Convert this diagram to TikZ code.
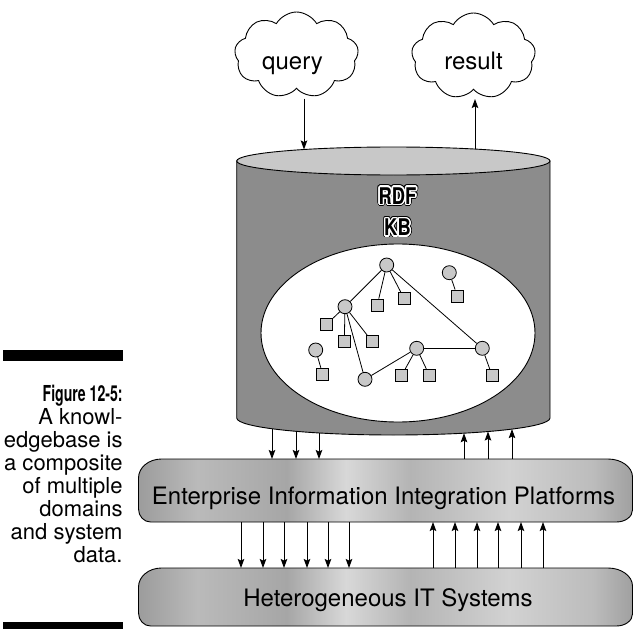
\documentclass[tikz,border=0pt]{standalone}
\usepackage{fontspec}
\setmainfont{TeX Gyre Heros}
\newfontfamily\condfont[FakeStretch=0.64]{TeX Gyre Heros}
\newfontfamily\kbfont[FakeStretch=0.8]{TeX Gyre Heros}
\usepackage{contour}
\usetikzlibrary{shapes.symbols,shapes.geometric,arrows.meta}
\definecolor{lightg}{HTML}{C8C8C8}
\definecolor{bodyg}{HTML}{8C8C8C}
\definecolor{mA}{HTML}{9C9C9C}
\definecolor{mB}{HTML}{BABABA}
\definecolor{mC}{HTML}{A6A6A6}
\definecolor{mD}{HTML}{D8D8D8}
\definecolor{mE}{HTML}{B4B4B4}
\definecolor{mF}{HTML}{D2D2D2}
\definecolor{mG}{HTML}{BCBCBC}
\definecolor{mH}{HTML}{A0A0A0}
\pgfdeclarehorizontalshading{metal}{100bp}{color(0bp)=(mA); color(25bp)=(mA); color(31bp)=(mB); color(40bp)=(mC); color(46bp)=(mD); color(52.5bp)=(mE); color(62.5bp)=(mF); color(71bp)=(mG); color(75bp)=(mH); color(100bp)=(mH)}
\begin{document}
\begin{tikzpicture}[x=1pt,y=-1pt,line width=0.9pt,
  arr/.style={-{Stealth[length=9pt,width=6.5pt,inset=1.5pt]}},
  gcirc/.style={circle,draw,fill=lightg,minimum size=14pt,inner sep=0pt,line width=0.8pt},
  gsq/.style={rectangle,draw,fill=lightg,minimum size=12pt,inner sep=0pt,line width=0.8pt},
  gedge/.style={line width=0.8pt},
  bigtxt/.style={font=\fontsize{24}{28}\selectfont},
  captxt/.style={font=\fontsize{22}{24}\selectfont,anchor=base east,inner sep=0pt},
  kbtxt/.style={font=\kbfont\bfseries\fontsize{23}{26}\selectfont,inner sep=0pt},
  cloudbox/.style={cloud,draw,fill=white,cloud puffs=9,cloud puff arc=120,aspect=1.4,minimum width=124pt,minimum height=86pt,inner sep=0pt},
  metalbox/.style={shading=metal,draw,line width=0.9pt}]
\useasboundingbox (0,0) rectangle (633,629);

% caption
\fill (3.3,350) rectangle (123.3,360.5);
\fill (3.3,622) rectangle (123.3,629);
\node[captxt,font=\condfont\bfseries\fontsize{22}{24}\selectfont] (c1) at (123,401.7) {Figure 12-5:};
\node[captxt] (c2) at (123,424.7) {A knowl-};
\node[captxt] (c3) at (123,447.7) {edgebase is};
\node[captxt] (c4) at (123,470.7) {a composite};
\node[captxt] (c5) at (123,493.7) {of multiple};
\node[captxt] (c6) at (123,516.7) {domains};
\node[captxt] (c7) at (123,539.7) {and system};
\node[captxt] (c8) at (123,562.7) {data.};

% clouds
\node[cloudbox] (q) at (296.5,55) {};
\node[cloudbox] (r) at (473.5,56) {};
\node[bigtxt,anchor=base] (qt) at (292.5,70) {query};
\node[bigtxt,anchor=base] (rt) at (473.5,70) {result};

% cylinder
\path[fill=bodyg,draw] (236.7,161) -- (236.7,418) arc[start angle=180,end angle=0,x radius=156.65,y radius=17] -- (550,161) -- cycle;
\path[fill=lightg,draw] (393.35,161) ellipse[x radius=156.65,y radius=14];
\node[kbtxt] (rdfo) at (397.5,196.7) {\contourlength{2.4pt}\contour{black}{RDF}};
\node[kbtxt] (rdf) at (397.5,196.7) {\contourlength{1.5pt}\contour{white}{RDF}};
\node[kbtxt] (kbo) at (397.5,228.3) {\contourlength{2.4pt}\contour{black}{KB}};
\node[kbtxt] (kb) at (397.5,228.3) {\contourlength{1.5pt}\contour{white}{KB}};
\path[fill=white,draw] (398,333) ellipse[x radius=137,y radius=89];

% graph
\node[gcirc] (a) at (386.7,265) {};
\node[gcirc] (b) at (345,306.7) {};
\node[gcirc] (c) at (449.3,272.7) {};
\node[gcirc] (d) at (315.7,350) {};
\node[gcirc] (e) at (365,379.3) {};
\node[gcirc] (f) at (416.7,348.3) {};
\node[gcirc] (g) at (482.3,348.3) {};
\node[gsq] (s1) at (377.3,305) {};
\node[gsq] (s2) at (404,298.3) {};
\node[gsq] (s3) at (457.3,296) {};
\node[gsq] (s4) at (326.7,324.3) {};
\node[gsq] (s5) at (344.3,341.7) {};
\node[gsq] (s6) at (372.3,341.7) {};
\node[gsq] (s7) at (322.7,374.3) {};
\node[gsq] (s8) at (401.7,375.3) {};
\node[gsq] (s9) at (429.3,375.3) {};
\node[gsq] (s10) at (492,375.3) {};
\draw[gedge] (a) -- (b);
\draw[gedge] (a) -- (s1);
\draw[gedge] (a) -- (s2);
\draw[gedge] (a) -- (g);
\draw[gedge] (c) -- (s3);
\draw[gedge] (b) -- (s4);
\draw[gedge] (b) -- (s5);
\draw[gedge] (b) -- (s6);
\draw[gedge] (b) -- (e);
\draw[gedge] (e) -- (f);
\draw[gedge] (f) -- (g);
\draw[gedge] (f) -- (s8);
\draw[gedge] (f) -- (s9);
\draw[gedge] (g) -- (s10);
\draw[gedge] (d) -- (s7);

% cloud arrows
\coordinate (qb) at (304,98.5);
\coordinate (ct1) at (304,149.5);
\coordinate (rb) at (475,99);
\coordinate (ct2) at (475,149);
\draw[arr] (qb) -- (ct1);
\draw[arr] (ct2) -- (rb);

% EIIP box
\path[metalbox] (138.5,478) .. controls (138.5,467.5) and (148.8,459) .. (161.5,459) -- (608,459)
  .. controls (621.5,459) and (632.5,467.1) .. (632.5,477) -- (632.5,510)
  .. controls (632.5,516.6) and (625.3,522) .. (616.5,522) -- (150.5,522)
  .. controls (143.9,522) and (138.5,516.2) .. (138.5,509) -- cycle;
\node[bigtxt,anchor=base] (eiip) at (383.5,504) {Enterprise Information Integration Platforms};

% HIT box
\path[metalbox] (138.5,587) .. controls (138.5,576.5) and (148.8,568) .. (161.5,568) -- (608,568)
  .. controls (621.5,568) and (632.5,576.1) .. (632.5,586) -- (632.5,614)
  .. controls (632.5,620.6) and (625.3,626) .. (616.5,626) -- (150.5,626)
  .. controls (143.9,626) and (138.5,620.2) .. (138.5,613) -- cycle;
\node[bigtxt,anchor=base] (hit) at (388,606.7) {Heterogeneous IT Systems};

% cylinder <-> EIIP
\coordinate (kd1) at (272,428.7); \coordinate (ed1) at (272,459);
\coordinate (kd2) at (296,431.3); \coordinate (ed2) at (296,459);
\coordinate (kd3) at (319,433);   \coordinate (ed3) at (319,459);
\coordinate (ku1) at (464,433.2); \coordinate (eu1) at (464,459);
\coordinate (ku2) at (488,431.5); \coordinate (eu2) at (488,459);
\coordinate (ku3) at (512,429.1); \coordinate (eu3) at (512,459);
\draw[arr] (kd1) -- (ed1);
\draw[arr] (kd2) -- (ed2);
\draw[arr] (kd3) -- (ed3);
\draw[arr] (eu1) -- (ku1);
\draw[arr] (eu2) -- (ku2);
\draw[arr] (eu3) -- (ku3);

% EIIP <-> HIT
\foreach \x [count=\i] in {241,263,284,307,328,349} {
  \coordinate (dt\i) at (\x,522);
  \coordinate (db\i) at (\x,568);
  \draw[arr] (dt\i) -- (db\i);
}
\foreach \x [count=\i] in {433,455,477,498,521,543} {
  \coordinate (ub\i) at (\x,568);
  \coordinate (ut\i) at (\x,522);
  \draw[arr] (ub\i) -- (ut\i);
}
\end{tikzpicture}
\end{document}
